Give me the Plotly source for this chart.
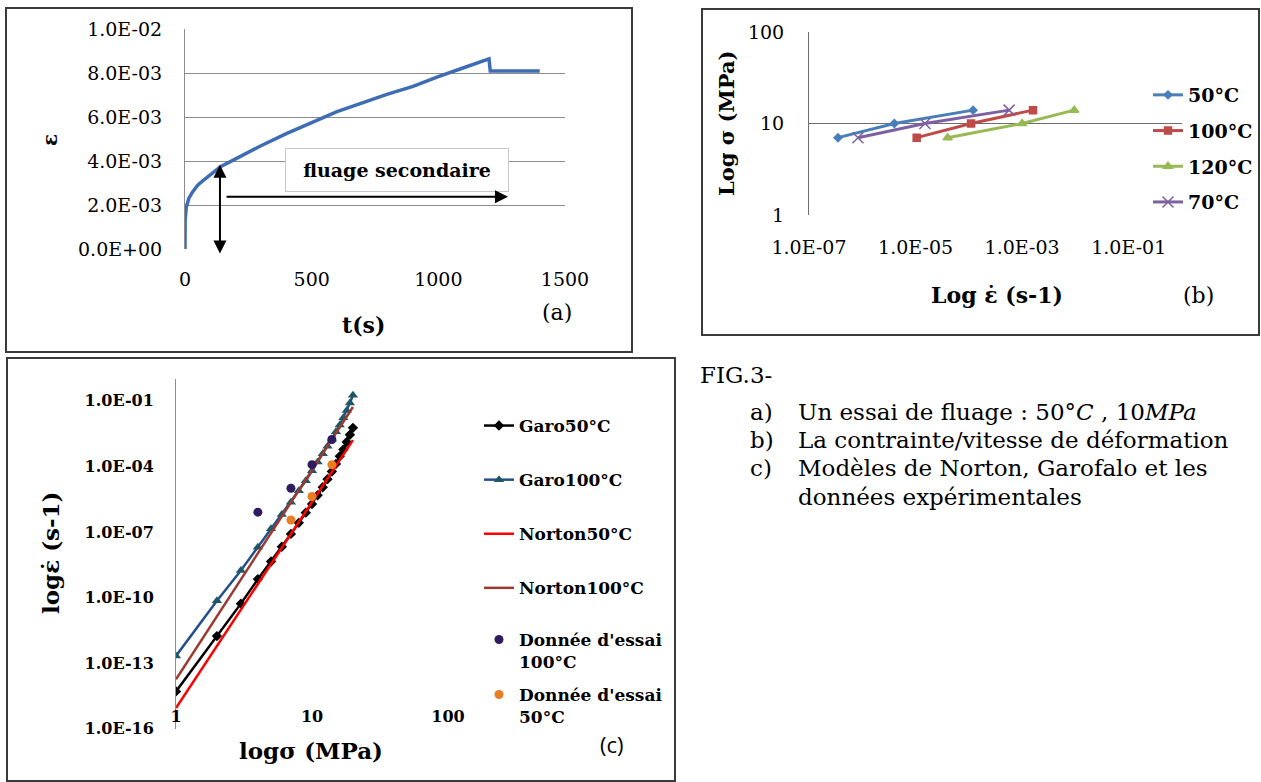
import math
import plotly.graph_objects as go

W, H = 1261, 782
def fx(p): return p / W
def fy(p): return 1 - p / H

SERIF = "DejaVu Serif"
BLACK = "black"

# ---------------- (a) creep test ----------------
time_s = [0, 0.5, 5, 15, 30, 50, 75, 100, 140, 200, 250, 300, 400, 500, 600, 700,
          800, 900, 1000, 1100, 1200, 1205, 1400]
strain = [0, 1.3e-3, 1.9e-3, 2.3e-3, 2.6e-3, 2.9e-3, 3.15e-3, 3.4e-3, 3.75e-3, 4.1e-3,
          4.4e-3, 4.7e-3, 5.25e-3, 5.75e-3, 6.25e-3, 6.65e-3, 7.05e-3, 7.4e-3, 7.85e-3,
          8.25e-3, 8.65e-3, 8.1e-3, 8.1e-3]
strain_ticks = [0, 0.002, 0.004, 0.006, 0.008, 0.010]
strain_tick_text = ["0.0E+00", "2.0E-03", "4.0E-03", "6.0E-03", "8.0E-03", "1.0E-02"]
time_ticks = [0, 500, 1000, 1500]

# ---------------- (b) stress / strain rate ----------------
stress_b = [7, 10, 14]
rate_50C = [3.5e-7, 4.0e-6, 1.2e-4]
rate_100C = [1.05e-5, 1.1e-4, 1.6e-3]
rate_120C = [4.0e-5, 1.0e-3, 9.5e-3]
rate_70C = [8.3e-7, 1.5e-5, 5.7e-4]
rate_ticks_b = [1e-7, 1e-5, 1e-3, 1e-1]
rate_tick_text_b = ["1.0E-07", "1.0E-05", "1.0E-03", "1.0E-01"]
stress_ticks_b = [1, 10, 100]

# ---------------- (c) models ----------------
sigma_garo = [1, 2, 3, 4, 5, 6, 7, 8, 9, 10, 11, 12, 13, 14, 15, 16, 17, 18, 19, 20]
garo_50C = [5.0e-15, 1.7e-12, 5.2e-11, 6.9e-10, 4.4e-9, 2.1e-8, 8.1e-8, 2.6e-7, 7.6e-7,
            1.9e-6, 4.8e-6, 1.1e-5, 2.6e-5, 5.8e-5, 1.3e-4, 2.9e-4, 6.0e-4, 1.3e-3,
            2.8e-3, 5.8e-3]
garo_100C = [2.1e-13, 7.1e-11, 1.7e-9, 2.0e-8, 1.4e-7, 6.3e-7, 2.3e-6, 7.6e-6, 2.2e-5,
             6.3e-5, 1.6e-4, 3.8e-4, 8.3e-4, 1.8e-3, 3.8e-3, 7.9e-3, 1.7e-2, 3.6e-2,
             7.9e-2, 1.8e-1]
sigma_norton = [1, 20]
norton_50C = [8.7e-16, 1.6e-3]
norton_100C = [1.8e-14, 5.2e-2]
sigma_exp_100C = [4, 7, 10, 14]
rate_exp_100C = [8.0e-7, 1.0e-5, 1.2e-4, 1.7e-3]
sigma_exp_50C = [7, 10, 14]
rate_exp_50C = [3.5e-7, 4.2e-6, 1.2e-4]
rate_ticks_c = [1e-1, 1e-4, 1e-7, 1e-10, 1e-13, 1e-16]
rate_tick_text_c = ["1.0E-01", "1.0E-04", "1.0E-07", "1.0E-10", "1.0E-13", "1.0E-16"]
grid_c = [1e-1, 1e-4, 1e-7, 1e-10, 1e-13, 1e-14]
sigma_ticks_c = [1, 10, 100]

fig = go.Figure()

# (a)
fig.add_trace(go.Scatter(x=time_s, y=strain, mode="lines", xaxis="x", yaxis="y",
                         line=dict(color="#3F6DB3", width=3.5), showlegend=False))

# (b)
b_series = [
    ("50°C", rate_50C, "#4A7EBB", "diamond", 6),
    ("100°C", rate_100C, "#BE4B48", "square", 7),
    ("120°C", rate_120C, "#98B954", "triangle-up", 8),
    ("70°C", rate_70C, "#7D60A0", "x-thin", 11),
]
for i, (name, vals, col, sym, sz) in enumerate(b_series):
    fig.add_trace(go.Scatter(
        x=vals, y=stress_b, mode="lines+markers", name=name, xaxis="x2", yaxis="y2",
        line=dict(color=col, width=3),
        marker=dict(symbol=sym, size=sz, color=col, line=dict(color=col, width=1.5)),
        legend="legend", legendgroup="b%d" % i))

# (c)
fig.add_trace(go.Scatter(x=sigma_garo, y=garo_50C, mode="lines+markers", name="Garo50°C",
                         xaxis="x3", yaxis="y3", line=dict(color="#000000", width=2.5),
                         marker=dict(symbol="diamond", size=8, color="#000000"),
                         legend="legend2", legendgroup="c0"))
fig.add_trace(go.Scatter(x=sigma_garo, y=garo_100C, mode="lines+markers", name="Garo100°C",
                         xaxis="x3", yaxis="y3", line=dict(color="#24508A", width=2.5),
                         marker=dict(symbol="triangle-up", size=9, color="#1E5866"),
                         legend="legend2", legendgroup="c1"))
fig.add_trace(go.Scatter(x=sigma_norton, y=norton_50C, mode="lines", name="Norton50°C",
                         xaxis="x3", yaxis="y3", line=dict(color="#FF0000", width=2.5),
                         legend="legend2", legendgroup="c2"))
fig.add_trace(go.Scatter(x=sigma_norton, y=norton_100C, mode="lines", name="Norton100°C",
                         xaxis="x3", yaxis="y3", line=dict(color="#9B3A30", width=2.5),
                         legend="legend2", legendgroup="c3"))
fig.add_trace(go.Scatter(x=sigma_exp_100C, y=rate_exp_100C, mode="markers",
                         name="Donnée d'essai<br>100°C", xaxis="x3", yaxis="y3",
                         marker=dict(symbol="circle", size=9, color="#2E1D5E"),
                         legend="legend3"))
fig.add_trace(go.Scatter(x=sigma_exp_50C, y=rate_exp_50C, mode="markers",
                         name="Donnée d'essai<br>50°C", xaxis="x3", yaxis="y3",
                         marker=dict(symbol="circle", size=9, color="#E87D22"),
                         legend="legend4"))

tick_reg = dict(family=SERIF, size=19, color=BLACK)
tick_bold = dict(family=SERIF, size=16, color=BLACK, weight="bold")

shapes = []
for g in grid_c:
    shapes.append(dict(type="line", xref="x3 domain", yref="y3", x0=0, x1=1,
                       y0=math.log10(g), y1=math.log10(g),
                       line=dict(color="#8C8C8C", width=1.2), layer="below"))
# panel frames
for (x0, y0, x1, y1) in [(6, 8, 632, 352), (702, 9, 1259, 335), (7, 358, 675, 781)]:
    shapes.append(dict(type="rect", xref="paper", yref="paper",
                       x0=fx(x0), x1=fx(x1), y0=fy(y1), y1=fy(y0),
                       line=dict(color="#3A3A3A", width=2), fillcolor="rgba(0,0,0,0)"))

def ann(x, y, text, size, bold=False, angle=0, family=SERIF, xanchor="center"):
    return dict(x=fx(x), y=fy(y), xref="paper", yref="paper", text=text,
                showarrow=False, textangle=angle, xanchor=xanchor, yanchor="middle",
                font=dict(family=family, size=size, color=BLACK,
                          weight="bold" if bold else "normal"))

CAP = 23
annotations = [
    ann(50, 140, "ε", 20, True, -90),
    ann(364, 325, "t(s)", 22, True),
    ann(557, 313, "(a)", 22),
    ann(727, 123, "Log σ (MPa)", 21, True, -90),
    ann(997, 295, "Log ε\u0307 (s-1)", 22, True),
    ann(1198, 295, "(b)", 22),
    ann(50, 553, "logε\u0307 (s-1)", 23, True, -90),
    ann(311, 750, "logσ (MPa)", 23, True),
    ann(612, 744, "(c)", 22, family="Open Sans"),
    ann(698, 375, "FIG.3-", CAP, xanchor="left"),
    ann(748, 412, "a)", CAP, xanchor="left"),
    ann(796, 412, "Un essai de fluage : 50°<i>C</i> , 10<i>MPa</i>", CAP, xanchor="left"),
    ann(748, 440, "b)", CAP, xanchor="left"),
    ann(796, 440, "La contrainte/vitesse de déformation", CAP, xanchor="left"),
    ann(748, 468, "c)", CAP, xanchor="left"),
    ann(796, 468, "Modèles de Norton, Garofalo et les", CAP, xanchor="left"),
    ann(796, 497, "données expérimentales", CAP, xanchor="left"),
    dict(x=837, y=3.6e-3, xref="x", yref="y", text="<b>fluage secondaire</b>",
         showarrow=False, bgcolor="white", bordercolor="#C8C8C8", borderwidth=1,
         width=220, height=40, borderpad=1,
         font=dict(family=SERIF, size=19, color=BLACK)),
    dict(x=1275, y=2.38e-3, ax=158, ay=2.38e-3, xref="x", yref="y", axref="x", ayref="y",
         text="", showarrow=True, arrowhead=2, arrowsize=1.3, arrowwidth=2, arrowcolor=BLACK),
    dict(x=138, y=-0.2e-3, ax=138, ay=3.9e-3, xref="x", yref="y", axref="x", ayref="y",
         text="", showarrow=True, arrowhead=2, startarrowhead=2, arrowside="end+start",
         arrowsize=1.3, startarrowsize=1.3, arrowwidth=2, arrowcolor=BLACK),
]

leg_font_b = dict(family=SERIF, size=19, color=BLACK, weight="bold")
leg_font_c = dict(family=SERIF, size=17, color=BLACK, weight="bold")

fig.update_layout(
    width=W, height=H, autosize=False,
    margin=dict(l=0, r=0, t=0, b=0, pad=0, autoexpand=False),
    paper_bgcolor="white", plot_bgcolor="white",
    xaxis=dict(domain=[fx(185), fx(565)], range=[0, 1500], tickvals=time_ticks,
               showgrid=False, zeroline=False, showline=False, ticks="",
               tickfont=tick_reg, ticklabelstandoff=17, anchor="y"),
    yaxis=dict(domain=[fy(249), fy(29.3)], range=[0, 0.01], tickvals=strain_ticks,
               ticktext=strain_tick_text, showgrid=True, gridcolor="#8C8C8C",
               zeroline=False, showline=True, linecolor="#8C8C8C", ticks="",
               tickfont=tick_reg, ticklabelstandoff=18, anchor="x"),
    xaxis2=dict(domain=[fx(809), fx(1182)], type="log", range=[-7, 0],
                tickvals=rate_ticks_b, ticktext=rate_tick_text_b, showgrid=False,
                zeroline=False, showline=False, ticks="", tickfont=tick_reg,
                ticklabelstandoff=19, anchor="y2"),
    yaxis2=dict(domain=[fy(215), fy(32)], type="log", range=[0, 2],
                tickvals=stress_ticks_b, ticktext=["1", "10", "100"], showgrid=True,
                gridcolor="#6E6E6E", zeroline=False, showline=True, linecolor="#6E6E6E",
                ticks="", tickfont=tick_reg, ticklabelstandoff=20, anchor="x2"),
    xaxis3=dict(domain=[fx(176), fx(448)], type="log", range=[0, 2],
                tickvals=sigma_ticks_c, ticktext=["1", "10", "100"], showgrid=False,
                zeroline=False, showline=False, ticks="", tickfont=tick_bold,
                ticklabelposition="inside", ticklabeloverflow="allow", anchor="y3"),
    yaxis3=dict(domain=[fy(728.5), fy(379)], type="log", range=[-16, 0],
                tickvals=rate_ticks_c, ticktext=rate_tick_text_c, showgrid=False,
                zeroline=False, showline=True, linecolor="#8C8C8C", ticks="",
                tickfont=tick_bold, ticklabelstandoff=18, anchor="x3"),
    legend=dict(x=fx(1148), y=fy(76), xanchor="left", yanchor="top", font=leg_font_b,
                bgcolor="rgba(0,0,0,0)", tracegroupgap=8, traceorder="grouped"),
    legend2=dict(x=fx(479), y=fy(408), xanchor="left", yanchor="top", font=leg_font_c,
                 bgcolor="rgba(0,0,0,0)", tracegroupgap=29, traceorder="grouped"),
    legend3=dict(x=fx(479), y=fy(622), xanchor="left", yanchor="top", font=leg_font_c,
                 bgcolor="rgba(0,0,0,0)", valign="top"),
    legend4=dict(x=fx(479), y=fy(677), xanchor="left", yanchor="top", font=leg_font_c,
                 bgcolor="rgba(0,0,0,0)", valign="top"),
    shapes=shapes,
    annotations=annotations,
)

fig.write_html(
    "out.html",
    config={"displayModeBar": False},
    post_script=("document.documentElement.style.margin='0';"
                 "document.body.style.margin='0';"
                 "document.body.style.padding='0';"
                 "document.documentElement.style.overflow='hidden';"
                 "document.body.style.overflow='hidden';"),
)
